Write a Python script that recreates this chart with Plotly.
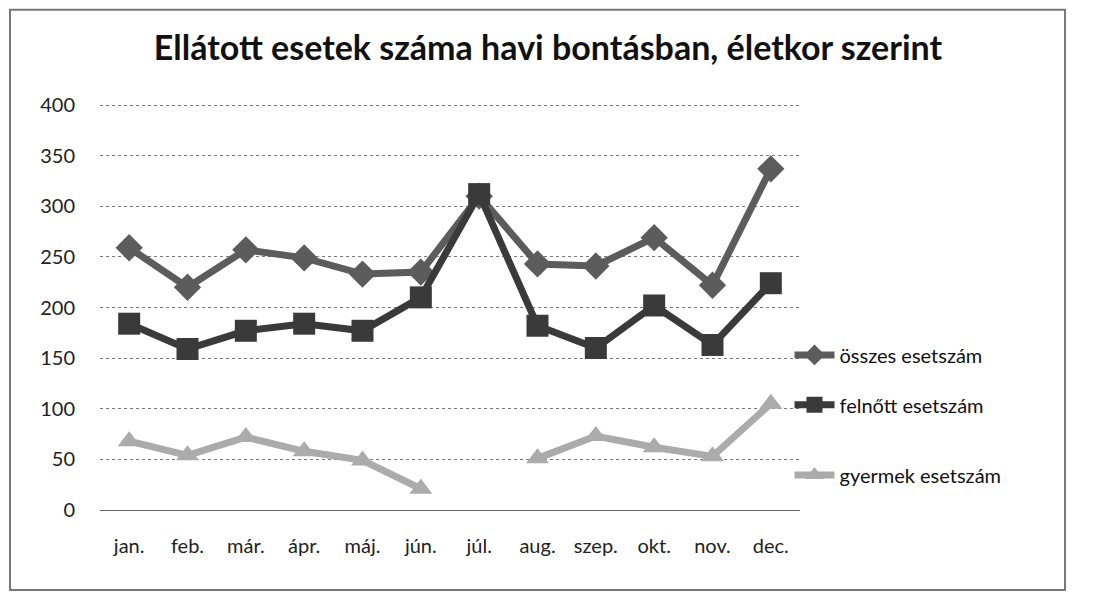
"""Ellátott esetek száma havi bontásban, életkor szerint — line chart."""

import plotly.graph_objects as go

# ── Data ───────────────────────────────────────────────────────────────────
MONTHS = ["jan.", "feb.", "már.", "ápr.", "máj.", "jún.",
          "júl.", "aug.", "szep.", "okt.", "nov.", "dec."]

OSSZES = [259, 220, 257, 249, 233, 235, 310, 243, 241, 269, 222, 337]
FELNOTT = [184, 159, 177, 184, 177, 210, 312, 182, 160, 202, 163, 224]
GYERMEK = [68, 54, 72, 58, 49, 21, None, 51, 73, 62, 53, 105]

SERIES_NAMES = ["összes esetszám", "felnőtt esetszám", "gyermek esetszám"]
Y_TICKS = [0, 50, 100, 150, 200, 250, 300, 350, 400]

FONT = "Lato, 'Open Sans', sans-serif"

# (values, colour, marker symbol, marker size, legend id, legend y)
_STYLE = [
    (OSSZES, "#5c5c5c", "diamond", 21, "legend", 0.382),
    (FELNOTT, "#3a3a3a", "square", 22, "legend2", 0.259),
    (GYERMEK, "#ababab", "triangle-up", 20, "legend3", 0.086),
]

fig = go.Figure()
legends = {}
for name, (vals, color, sym, size, leg, ly) in zip(SERIES_NAMES, _STYLE):
    fig.add_trace(
        go.Scatter(
            x=MONTHS,
            y=vals,
            name=name,
            mode="lines+markers",
            line=dict(color=color, width=7),
            marker=dict(symbol=sym, size=size, color=color),
            connectgaps=False,
            legend=leg,
        )
    )
    legends[leg] = dict(
        x=0.985, y=ly, xanchor="left", yanchor="middle",
        bgcolor="rgba(0,0,0,0)",
        font=dict(family=FONT, size=20, color="#111"),
        itemwidth=40,
    )

# page body adds an 8px offset, so the figure is 8px smaller on each side
fig.update_layout(
    width=1085,
    height=586,
    margin=dict(l=92, r=293, t=96, b=84),
    paper_bgcolor="white",
    plot_bgcolor="white",
    title=dict(
        text="<b>Ellátott esetek száma havi bontásban, életkor szerint</b>",
        x=0.4977, xref="container", xanchor="center",
        y=0.932, yref="container", yanchor="middle",
        font=dict(family=FONT, size=34, color="#111"),
    ),
    font=dict(family=FONT, size=20, color="#222"),
    showlegend=True,
    **legends,
)

fig.update_xaxes(
    type="category",
    range=[-0.5, 11.5],
    showgrid=False,
    showline=False,
    zeroline=False,
    ticks="",
    ticklabelstandoff=22,
    tickfont=dict(family=FONT, size=20, color="#222"),
)
fig.update_yaxes(
    range=[0, 401],
    tickvals=Y_TICKS,
    showgrid=True,
    gridcolor="#7a7a7a",
    gridwidth=1,
    griddash="dot",
    zeroline=True,
    zerolinecolor="#666",
    zerolinewidth=1,
    showline=False,
    ticks="",
    ticklabelstandoff=24,
    tickfont=dict(family=FONT, size=20, color="#222"),
)

# outer chart border
fig.add_shape(
    type="rect", xref="paper", yref="paper",
    x0=-0.1286, x1=1.3786, y0=-0.197, y1=1.232,
    line=dict(color="#777", width=2),
    layer="below",
)

fig.write_html("out.html")
